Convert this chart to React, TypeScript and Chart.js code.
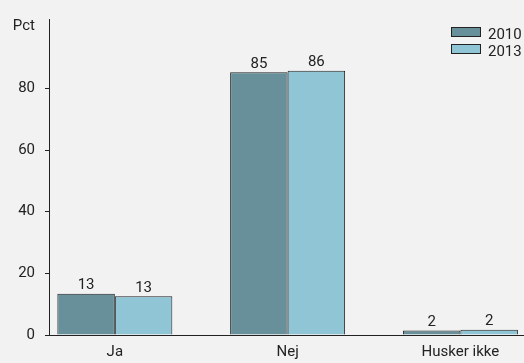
import React, { useEffect, useRef } from "react";
import { Chart, registerables } from "chart.js";

Chart.register(...registerables);

const categories = ["Ja", "Nej", "Husker ikke"];
const series2010 = [13.4, 85.2, 1.5];
const series2013 = [12.6, 85.7, 1.7];
const seriesLabels = ["2010", "2013"];
const yTicks = [0, 20, 40, 60, 80];
const yUnit = "Pct";

const COLORS = ["#67909a", "#8fc5d5"];
const TEXT = "#222222";
const FONT_FAMILY = "Roboto, 'Liberation Sans', sans-serif";
const FONT_SIZE = 15;

const overlayPlugin = {
  id: "overlay",
  afterDatasetsDraw(chart: any) {
    const ctx = chart.ctx;
    const area = chart.chartArea;
    ctx.save();
    ctx.font = `${FONT_SIZE}px ${FONT_FAMILY}`;
    ctx.fillStyle = TEXT;
    // value labels
    chart.data.datasets.forEach((ds: any, di: number) => {
      const meta = chart.getDatasetMeta(di);
      meta.data.forEach((bar: any, i: number) => {
        const v = ds.data[i].y;
        ctx.textAlign = "center";
        ctx.textBaseline = "alphabetic";
        ctx.fillText(String(Math.round(v)), bar.x, bar.y - 4.5);
      });
    });
    // unit label
    ctx.textAlign = "right";
    ctx.textBaseline = "alphabetic";
    ctx.fillText(yUnit, 35, 30);
    // legend
    chart.data.datasets.forEach((ds: any, di: number) => {
      const y = 27.5 + di * 17;
      const x = 451.5;
      ctx.fillStyle = ds.backgroundColor;
      ctx.fillRect(x, y, 29, 9);
      ctx.strokeStyle = TEXT;
      ctx.lineWidth = 1;
      ctx.strokeRect(x, y, 29, 9);
      ctx.fillStyle = TEXT;
      ctx.textAlign = "left";
      ctx.textBaseline = "alphabetic";
      ctx.fillText(ds.label, 488, y + 11);
    });
    ctx.restore();
  },
};

export default function App() {
  const ref = useRef<HTMLCanvasElement | null>(null);
  useEffect(() => {
    if (!ref.current) return;
    const mk = (arr: number[]) => arr.map((v, i) => ({ x: i, y: v }));
    const chart = new Chart(ref.current, {
      type: "bar",
      data: {
        datasets: [
          {
            label: seriesLabels[0],
            data: mk(series2010) as any,
            backgroundColor: COLORS[0],
            borderColor: TEXT,
            borderWidth: 1,
            categoryPercentage: 0.6655,
            barPercentage: 1,
          },
          {
            label: seriesLabels[1],
            data: mk(series2013) as any,
            backgroundColor: COLORS[1],
            borderColor: TEXT,
            borderWidth: 1,
            categoryPercentage: 0.6655,
            barPercentage: 1,
          },
        ],
      },
      options: {
        animation: false,
        responsive: false,
        maintainAspectRatio: false,
        layout: { padding: { top: 18, right: 0, bottom: 0, left: 0 } },
        plugins: { legend: { display: false }, tooltip: { enabled: false } },
        scales: {
          x: {
            type: "linear",
            offset: false,
            min: -0.381,
            max: 2.368,
            afterBuildTicks: (s: any) => {
              s.ticks = categories.map((_, i) => ({ value: i }));
            },
            afterFit: (s: any) => {
              s.height = 28;
            },
            grid: { display: false, drawTicks: false },
            border: { display: true, color: TEXT, width: 1 },
            ticks: {
              color: TEXT,
              padding: 8,
              font: { family: FONT_FAMILY, size: FONT_SIZE },
              callback: (v: any) => categories[Math.round(Number(v))] ?? "",
              autoSkip: false,
              maxRotation: 0,
            },
          },
          y: {
            type: "linear",
            min: 0,
            max: 102.5,
            afterBuildTicks: (s: any) => {
              s.ticks = yTicks.map((v) => ({ value: v }));
            },
            afterFit: (s: any) => {
              s.width = 49;
            },
            grid: {
              drawOnChartArea: false,
              drawTicks: true,
              tickLength: 4,
              tickColor: TEXT,
              color: TEXT,
            },
            border: { display: true, color: TEXT, width: 1 },
            ticks: {
              color: TEXT,
              padding: 10,
              font: { family: FONT_FAMILY, size: FONT_SIZE },
            },
          },
        },
      } as any,
      plugins: [overlayPlugin],
    });
    return () => chart.destroy();
  }, []);
  return (
    <div
      style={{
        position: "absolute",
        left: 0,
        top: 0,
        width: 524,
        height: 363,
        background: "#f2f2f2",
      }}
    >
      <canvas ref={ref} width={524} height={363} style={{ display: "block" }} />
    </div>
  );
}
